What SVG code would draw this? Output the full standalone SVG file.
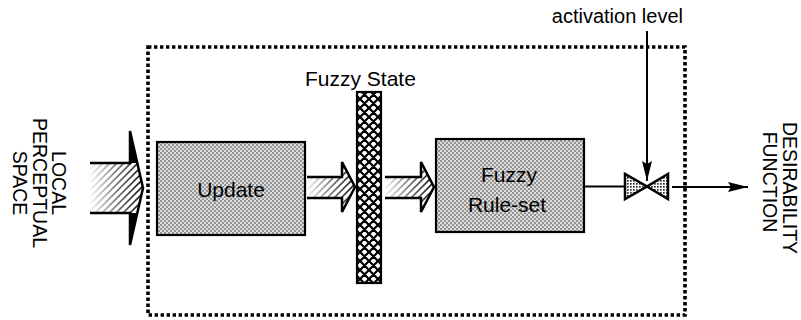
<svg xmlns="http://www.w3.org/2000/svg" width="801" height="320" viewBox="0 0 801 320">
<style>
  text { font-family: "Liberation Sans", Arial, sans-serif; fill: #000; }
  .lbl { font-size: 20px; }
  .rot { font-size: 19.5px; }
  .box { fill: url(#dither); stroke: #000; stroke-width: 2.2; }
  .outline { fill: none; stroke: #000; stroke-width: 2.5; stroke-linejoin: miter; }
  .wedge { fill: #000; }
  .line { fill: none; stroke: #000; stroke-width: 2; }
</style>
<defs>
  <pattern id="dither" width="4" height="4" patternUnits="userSpaceOnUse">
    <rect width="4" height="4" fill="#dcdcdc"/>
    <rect x="0" y="0" width="2" height="2" fill="#959595"/>
    <rect x="2" y="2" width="2" height="2" fill="#959595"/>
  </pattern>
  <pattern id="cross" width="9" height="9" patternUnits="userSpaceOnUse">
    <rect width="9" height="9" fill="#fff"/>
    <path d="M0,0 L9,9 M9,0 L0,9 M-4.5,4.5 L4.5,-4.5 M4.5,13.5 L13.5,4.5 M-4.5,4.5 L4.5,13.5 M4.5,-4.5 L13.5,4.5" stroke="#000" stroke-width="2.2"/>
  </pattern>
  <pattern id="hatch" width="7" height="7" patternUnits="userSpaceOnUse">
    <path d="M-1,8 L8,-1 M-4,4 L4,-4 M3,11 L11,3" stroke="#000" stroke-width="1.6"/>
  </pattern>
  <pattern id="valvefill" width="3" height="3" patternUnits="userSpaceOnUse">
    <rect width="3" height="3" fill="#fff"/>
    <rect x="0" y="0" width="1.7" height="1.7" fill="#333"/>
  </pattern>
  <linearGradient id="fade" x1="0" y1="0" x2="1" y2="0">
    <stop offset="0" stop-color="#fff" stop-opacity="0"/>
    <stop offset="0.45" stop-color="#fff" stop-opacity="0.5"/>
    <stop offset="1" stop-color="#fff" stop-opacity="1"/>
  </linearGradient>
  <mask id="m-big" maskUnits="userSpaceOnUse" x="88" y="125" width="60" height="125">
    <rect x="88" y="125" width="60" height="125" fill="url(#fade)"/>
  </mask>
  <mask id="m-a1" maskUnits="userSpaceOnUse" x="305" y="158" width="55" height="60">
    <rect x="305" y="158" width="55" height="60" fill="url(#fade)"/>
  </mask>
  <mask id="m-a2" maskUnits="userSpaceOnUse" x="383" y="158" width="55" height="60">
    <rect x="383" y="158" width="55" height="60" fill="url(#fade)"/>
  </mask>
  <marker id="head" viewBox="0 0 20 10" refX="20" refY="5" markerWidth="20" markerHeight="10" markerUnits="userSpaceOnUse" orient="auto">
    <path d="M0,0 L20,5 L0,10 L3,5 Z" fill="#000"/>
  </marker>
</defs>

<!-- boundary of the behaviour -->
<g id="node-boundary">
  <rect x="148" y="47" width="537" height="268" fill="none" stroke="#000" stroke-width="3.6" stroke-dasharray="3.4 2.6"/>
</g>

<!-- input label -->
<g id="label-input">
  <text class="rot" transform="translate(52,183) rotate(90)" text-anchor="middle">LOCAL</text>
  <text class="rot" transform="translate(32.5,183) rotate(90)" text-anchor="middle">PERCEPTUAL</text>
  <text class="rot" transform="translate(13,183) rotate(90)" text-anchor="middle">SPACE</text>
</g>

<!-- output label -->
<g id="label-output">
  <text class="rot" transform="translate(783,188) rotate(90)" text-anchor="middle">DESIRABILITY</text>
  <text class="rot" transform="translate(763,182) rotate(90)" text-anchor="middle">FUNCTION</text>
</g>

<g id="node-update">
  <rect class="box" x="157" y="142" width="148" height="93"/>
  <text class="lbl" x="231" y="197" text-anchor="middle" style="font-size:21px">Update</text>
</g>

<g id="node-fuzzy-state">
  <text class="lbl" x="305" y="86" style="font-size:21px">Fuzzy State</text>
  <rect x="357" y="92" width="24" height="191" fill="url(#cross)" stroke="#000" stroke-width="2.2"/>
</g>

<g id="node-ruleset">
  <rect class="box" x="436" y="139" width="148" height="93"/>
  <text class="lbl" x="509" y="182" text-anchor="middle" style="font-size:21px">Fuzzy</text>
  <text class="lbl" x="507" y="212" text-anchor="middle" style="font-size:21px">Rule-set</text>
</g>

<g id="node-valve">
  <polygon points="625,174 625,199 647,186.5" fill="url(#valvefill)" stroke="#000" stroke-width="2.5" stroke-linejoin="miter"/>
  <polygon points="668,174 668,199 647,186.5" fill="url(#valvefill)" stroke="#000" stroke-width="2.5" stroke-linejoin="miter"/>
</g>

<g id="label-activation">
  <text class="lbl" x="683" y="23" text-anchor="end">activation level</text>
</g>

<g id="connectors">
  <!-- big input arrow -->
  <g id="conn-input">
    <polygon points="90,163 130,163 130,131 143,188 130,245 130,213 90,213" fill="url(#hatch)" mask="url(#m-big)"/>
    <polyline class="outline" points="90,163 130,163 130,131 143,188 130,245 130,213 90,213"/>
    <polygon class="wedge" points="130,131 137.3,163 130,163"/>
    <polygon class="wedge" points="130,245 137.3,213 130,213"/>
  </g>
  <!-- update -> fuzzy state -->
  <g id="conn-update-state">
    <polygon points="307,177 342,177 342,162 355,187 342,212 342,198 307,198" fill="url(#hatch)" mask="url(#m-a1)"/>
    <polyline class="outline" points="307,177 342,177 342,162 355,187 342,212 342,198 307,198"/>
  </g>
  <!-- fuzzy state -> rule-set -->
  <g id="conn-state-ruleset">
    <polygon points="385,177 421,177 421,162 434,187 421,212 421,198 385,198" fill="url(#hatch)" mask="url(#m-a2)"/>
    <polyline class="outline" points="385,177 421,177 421,162 434,187 421,212 421,198 385,198"/>
  </g>
  <!-- rule-set -> valve -->
  <line class="line" x1="584" y1="186.5" x2="625" y2="186.5"/>
  <!-- activation level -> valve -->
  <line class="line" x1="647" y1="31" x2="647" y2="181" marker-end="url(#head)"/>
  <!-- valve -> desirability function -->
  <line class="line" x1="672" y1="187" x2="748" y2="187" marker-end="url(#head)"/>
</g>
</svg>
